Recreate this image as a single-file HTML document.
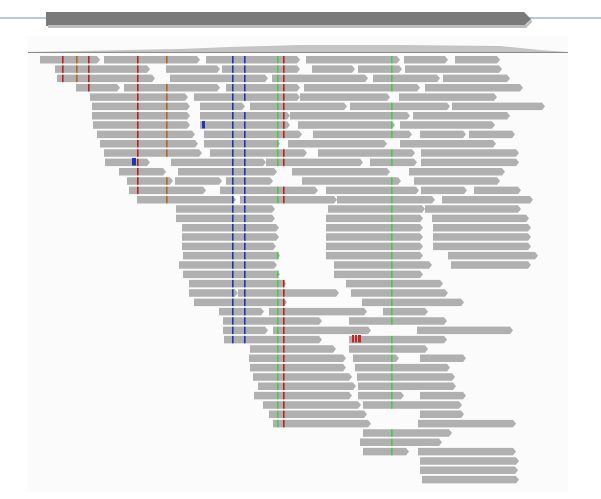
<!DOCTYPE html>
<html><head><meta charset="utf-8"><style>
html,body{margin:0;padding:0;background:#fff;width:601px;height:499px;overflow:hidden}
svg{display:block}
</style></head><body>
<svg id="s" width="601" height="499" xmlns="http://www.w3.org/2000/svg">
<rect x="28" y="36" width="540" height="456" fill="#fbfbfb"/>
<line x1="0" y1="18" x2="601" y2="18" stroke="#9db7d3" stroke-width="1.5"/>
<polygon points="46,12 524,12 531,19 524,26 46,26" fill="#7a7a7a"/>
<polygon points="48,25 526,25 531,19 532,22 526,28 48,28" fill="#bdbdbd"/>
<polygon points="28,52 80,51 180,49 230,47 300,45 400,45 500,46 540,50 568,52" fill="#c4c4c4"/>
<line x1="28" y1="52.5" x2="568" y2="52.5" stroke="#8a8a8a" stroke-width="1"/>
<g id="g"></g>
</svg>
<script>
var rows=[
[[40,100],[104,200],[206,300],[306,400],[404,448],[455,500]],
[[55,150],[166,220],[222,300],[312,355],[358,402],[405,502]],
[[57,155],[170,268],[272,368],[373,440],[443,510]],
[[76,120],[124,220],[226,300],[304,420],[425,523]],
[[90,188],[194,300],[300,390],[399,497]],
[[92,190],[200,245],[250,347],[350,450],[452,545]],
[[92,190],[200,290],[290,410],[413,510]],
[[93,190],[200,290],[298,395],[400,495]],
[[95,189],[198,292],[303,398],[406,450],[453,497]],
[[97,192],[198,271],[279,374],[386,479]],
[[101,196],[203,297],[307,401],[407,501]],
[[102,146],[166,257],[257,351],[358,403],[407,501]],
[[116,161],[173,268],[282,377],[395,488]],
[[123,168],[170,215],[219,264],[292,387],[400,483]],
[[125,200],[213,307],[315,405],[407,451],[458,503]],
[[133,228],[232,326],[326,420],[427,515]],
[[171,266],[317,411],[411,503]],
[[171,266],[315,409],[417,511]],
[[176,270],[315,409],[418,513]],
[[176,270],[315,409],[418,513]],
[[176,267],[315,409],[418,513]],
[[177,271],[315,409],[433,519]],
[[174,268],[323,417],[436,513]],
[[177,271],[323,409]],
[[183,277],[334,428]],
[[183,230],[230,328],[339,433]],
[[188,278],[350,448]],
[[219,264],[269,367],[383,428]],
[[223,322],[349,447]],
[[223,268],[273,371],[417,513]],
[[224,322],[349,447]],
[[250,336],[349,428]],
[[249,346],[353,399],[420,466]],
[[250,346],[355,450]],
[[253,352],[357,455]],
[[258,356],[358,456]],
[[254,352],[358,404],[420,466]],
[[263,361],[363,462]],
[[269,367],[420,464]],
[[273,371],[418,516]],
[[363,452]],
[[360,442]],
[[363,409],[418,516]],
[[420,519]],
[[420,518]],
[[422,519]]
];
for(var i=8;i<=26;i++){rows[i]=rows[i].map(function(b){return [Math.round(30+(b[0]-30)*1.038),Math.round(30+(b[1]-30)*1.038)];});}
var marks=[[137,'#b22',0,15],[166,'#b8641e',0,15],[62,'#b22',0,2],[76,'#b8641e',0,3],[88,'#b22',0,3],
[232,'#2233bb',0,30],[244,'#2233bb',0,30],[277,'#44cc44',0,39],[283,'#b22',0,39],[391,'#44cc44',0,45]];
var g=document.getElementById('g'),h='';
rows.forEach(function(r,i){
 var y=56+i*9.33;
 r.forEach(function(b){
  h+='<polygon points="'+(b[0])+','+y+' '+(b[1]-3)+','+y+' '+b[1]+','+(y+3.75)+' '+(b[1]-3)+','+(y+7.5)+' '+b[0]+','+(y+7.5)+'" fill="#b0b0b0"/>';
 });
 marks.forEach(function(m){
  if(i<m[2]||i>m[3])return;
  r.forEach(function(b){ if(m[0]>b[0]+1&&m[0]<b[1]-2) h+='<rect x="'+m[0]+'" y="'+y+'" width="1.6" height="7.5" fill="'+m[1]+'"/>';});
 });
});
h+='<rect x="132" y="158" width="4" height="7.5" fill="#2233bb"/>';
h+='<rect x="202" y="121" width="3" height="7.5" fill="#2233bb"/>';
h+='<rect x="352" y="335" width="2" height="7.5" fill="#c22"/><rect x="355" y="335" width="2" height="7.5" fill="#c22"/><rect x="358" y="335" width="3" height="7.5" fill="#c22"/>';
g.innerHTML=h;
</script>
</body></html>
